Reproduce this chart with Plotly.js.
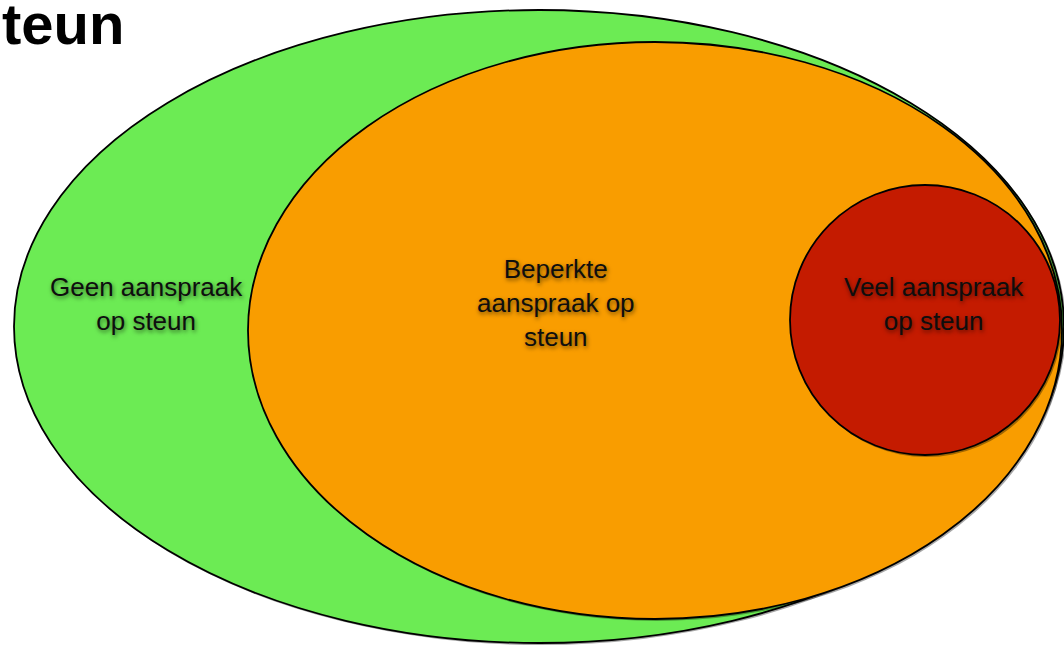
<!DOCTYPE html>
<html>
<head>
<meta charset="utf-8">
<script src="https://cdn.plot.ly/plotly-3.0.1.min.js"></script>
<style>
html,body{margin:0;padding:0;background:#fff;}
#chart{width:1064px;height:645px;}
</style>
</head>
<body>
<div id="chart"></div>
<script>
// Region data (pixel-space coordinates of the diagram)
var regionNames = ["Geen aanspraak<br>op steun", "Beperkte<br>aanspraak op<br>steun", "Veel aanspraak<br>op steun"];
var regionCx = [539, 655, 925];
var regionCy = [326.5, 330.5, 320];
var regionRx = [525, 407, 135];
var regionRy = [316.5, 288.5, 135];
var labelX = [146, 556, 934];
var labelY = [303.5, 303, 304];
var regionColors = ["#6CEB54", "#F99D00", "#C41B00"];
var titleText = "teun";

var shapes = [];
for (var i = 0; i < regionNames.length; i++) {
  shapes.push({
    type: "circle", xref: "x", yref: "y",
    x0: regionCx[i] - regionRx[i] + 1, x1: regionCx[i] + regionRx[i] + 2,
    y0: regionCy[i] - regionRy[i] + 1, y1: regionCy[i] + regionRy[i] + 2,
    fillcolor: "rgba(0,0,0,0.35)", line: {width: 0}, layer: "above"
  });
  shapes.push({
    type: "circle", xref: "x", yref: "y",
    x0: regionCx[i] - regionRx[i], x1: regionCx[i] + regionRx[i],
    y0: regionCy[i] - regionRy[i], y1: regionCy[i] + regionRy[i],
    fillcolor: regionColors[i], line: {color: "#000", width: 1.8}, layer: "above"
  });
}

var annotations = [];
for (var j = 0; j < regionNames.length; j++) {
  annotations.push({
    x: labelX[j], y: labelY[j], xref: "x", yref: "y",
    text: regionNames[j], showarrow: false, align: "center",
    xanchor: "center", yanchor: "middle",
    font: {family: "Liberation Sans, Arial, sans-serif", size: 26, color: "#0e0e0e",
           shadow: "1px 2px 4px rgba(0,0,0,0.55)"}
  });
}
annotations.push({
  x: 0, y: 1, xref: "paper", yref: "paper", xanchor: "left", yanchor: "top",
  text: "<b>" + titleText + "</b>", showarrow: false,
  font: {family: "Liberation Sans, Arial, sans-serif", size: 58, color: "#000"},
  yshift: 11
});

var layout = {
  width: 1064, height: 645,
  margin: {l: 0, r: 0, t: 0, b: 0},
  paper_bgcolor: "#fff", plot_bgcolor: "#fff",
  xaxis: {range: [0, 1064], visible: false, fixedrange: true},
  yaxis: {range: [645, 0], visible: false, fixedrange: true},
  shapes: shapes,
  annotations: annotations,
  showlegend: false
};

Plotly.newPlot("chart", [{x: [], y: [], type: "scatter", mode: "markers", hoverinfo: "skip"}], layout, {displayModeBar: false, staticPlot: true});
</script>
</body>
</html>
